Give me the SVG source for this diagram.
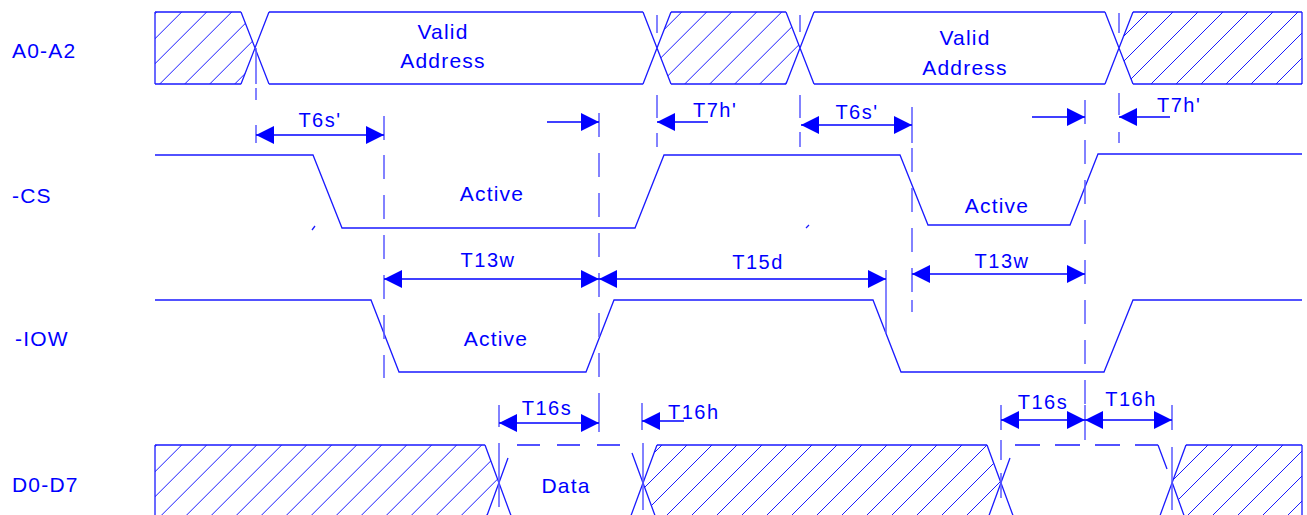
<svg xmlns="http://www.w3.org/2000/svg" width="1307" height="515" viewBox="0 0 1307 515">
<style>
.w{fill:none;stroke:#1a1aff;stroke-width:1.3}
.h{fill:none;stroke:#1a1aff;stroke-width:1}
.g{fill:none;stroke:#5a5aff;stroke-width:1.5}
.a{fill:none;stroke:#0000ff;stroke-width:1.3}
.t{font-family:"Liberation Sans",Arial,sans-serif;font-size:21px;letter-spacing:1.2px;fill:#0000ff}
.s{font-family:"Liberation Sans",Arial,sans-serif;font-size:20px;letter-spacing:1.5px;fill:#0000ff}
.m{text-anchor:middle}
</style>
<defs>
<marker id="ah" viewBox="0 0 18 18" refX="18" refY="9" markerWidth="18" markerHeight="18" markerUnits="userSpaceOnUse" orient="auto-start-reverse"><path d="M0,0 L18,9 L0,18 Z" fill="#0000ff"/></marker>
<clipPath id="cA1"><path d="M155,12 H241 L256,48 L241,84 H155 Z"/></clipPath>
<clipPath id="cA2"><path d="M657,48 L671,12 H786 L800,48 L786,84 H671 Z"/></clipPath>
<clipPath id="cA3"><path d="M1119,48 L1133,12 H1302 V84 H1133 Z"/></clipPath>
<clipPath id="cD1"><path d="M155,445 H485 L499,483 L485,521 H155 Z"/></clipPath>
<clipPath id="cD2"><path d="M643,483 L657,445 H987 L1001,483 L987,521 H657 Z"/></clipPath>
<clipPath id="cD3"><path d="M1172,483 L1186,445 H1302 V521 H1186 Z"/></clipPath>
</defs>
<rect width="1307" height="515" fill="#ffffff"/>

<g id="signal-labels">
<text class="t" x="12" y="58">A0-A2</text>
<text class="t" x="12" y="203">-CS</text>
<text class="t" x="15" y="346">-IOW</text>
<text class="t" x="12" y="492">D0-D7</text>
</g>

<g id="bus-address">
<path class="h" clip-path="url(#cA1)" d="M84.7,84 l72,-72 M109.7,84 l72,-72 M134.7,84 l72,-72 M159.7,84 l72,-72 M184.7,84 l72,-72 M209.7,84 l72,-72 M234.7,84 l72,-72"/>
<path class="h" clip-path="url(#cA2)" d="M584.7,84 l72,-72 M609.7,84 l72,-72 M634.7,84 l72,-72 M659.7,84 l72,-72 M684.7,84 l72,-72 M709.7,84 l72,-72 M734.7,84 l72,-72 M759.7,84 l72,-72 M784.7,84 l72,-72"/>
<path class="h" clip-path="url(#cA3)" d="M1051,84 l72,-72 M1076,84 l72,-72 M1101,84 l72,-72 M1126,84 l72,-72 M1151,84 l72,-72 M1176,84 l72,-72 M1201,84 l72,-72 M1226,84 l72,-72 M1251,84 l72,-72 M1276,84 l72,-72 M1301,84 l72,-72"/>
<path class="w" d="M155,12 V84 M155,12 H241 M269,12 H643 M671,12 H786 M814,12 H1105 M1133,12 H1302 M155,84 H241 M269,84 H643 M671,84 H786 M814,84 H1105 M1133,84 H1302 M1302,12 V84 M241,12 L269,84 M269,12 L241,84 M643,12 L671,84 M671,12 L643,84 M786,12 L814,84 M814,12 L786,84 M1105,12 L1133,84 M1133,12 L1105,84"/>
<text class="t m" x="443" y="39">Valid</text>
<text class="t m" x="443" y="68">Address</text>
<text class="t m" x="965" y="45">Valid</text>
<text class="t m" x="965" y="75">Address</text>
</g>

<g id="signal-cs">
<path class="w" d="M155,155 H313 L342,228 H635 L664,155 H900 L928,225 H1070 L1098,154 H1302"/>
<path class="w" d="M312,230 L315,226 M806,228 L809,225"/>
<text class="t m" x="492" y="201">Active</text>
<text class="t m" x="997" y="213">Active</text>
</g>

<g id="signal-iow">
<path class="w" d="M155,300 H371 L399,372 H586 L614,300 H873 L901,372 H1104 L1133,300 H1302"/>
<text class="t m" x="496" y="346">Active</text>
</g>

<g id="bus-data">
<path class="h" clip-path="url(#cD1)" d="M80.7,521 l76,-76 M105.7,521 l76,-76 M130.7,521 l76,-76 M155.7,521 l76,-76 M180.7,521 l76,-76 M205.7,521 l76,-76 M230.7,521 l76,-76 M255.7,521 l76,-76 M280.7,521 l76,-76 M305.7,521 l76,-76 M330.7,521 l76,-76 M355.7,521 l76,-76 M380.7,521 l76,-76 M405.7,521 l76,-76 M430.7,521 l76,-76 M455.7,521 l76,-76 M480.7,521 l76,-76"/>
<path class="h" clip-path="url(#cD2)" d="M561,521 l76,-76 M586,521 l76,-76 M611,521 l76,-76 M636,521 l76,-76 M661,521 l76,-76 M686,521 l76,-76 M711,521 l76,-76 M736,521 l76,-76 M761,521 l76,-76 M786,521 l76,-76 M811,521 l76,-76 M836,521 l76,-76 M861,521 l76,-76 M886,521 l76,-76 M911,521 l76,-76 M936,521 l76,-76 M961,521 l76,-76 M986,521 l76,-76"/>
<path class="h" clip-path="url(#cD3)" d="M1082,521 l76,-76 M1107,521 l76,-76 M1132,521 l76,-76 M1157,521 l76,-76 M1182,521 l76,-76 M1207,521 l76,-76 M1232,521 l76,-76 M1257,521 l76,-76 M1282,521 l76,-76 M1307,521 l76,-76"/>
<path class="w" d="M155,445 V515 M155,445 H485 M485,445 L513,521 M508,458 L485,521 M657,445 H987 M657,445 L629,521 M632,453 L657,521 M987,445 L1015,521 M1010,458 L987,521 M1186,445 H1302 M1186,445 L1158,521 M1302,445 V515 M1158,445 L1167,469 M1172,482 L1186,521"/>
<path class="w" d="M517,445 H540 M557,445 H580 M597,445 H620 M1015,445 H1040 M1055,445 H1080 M1095,445 H1120 M1135,445 H1158"/>
<text class="t m" x="566" y="493">Data</text>
</g>

<g id="guides">
<path class="g" d="M256,48 V84 M256,88 V100 M256,125 V143"/>
<path class="g" d="M384,116 V140 M384,155 V179 M384,195 V219 M384,235 V259 M384,275 V299 M384,315 V339 M384,355 V378"/>
<path class="g" d="M599,113 V137 M599,153 V177 M599,193 V217 M599,233 V257 M599,273 V297 M599,313 V337 M599,353 V377 M599,393 V432"/>
<path class="g" d="M657,15 V33 M657,95 V118 M657,133 V147"/>
<path class="g" d="M800,15 V32 M800,95 V118 M800,132 V147"/>
<path class="g" d="M912,107 V143 M912,148 V172 M912,188 V212 M912,228 V252 M912,268 V292 M912,300 V312"/>
<path class="g" d="M1085,100 V124 M1085,140 V164 M1085,180 V204 M1085,220 V244 M1085,260 V284 M1085,300 V324 M1085,340 V364 M1085,380 V404 M1085,405 V440"/>
<path class="g" d="M1119,13 V33 M1119,93 V115 M1119,132 V143"/>
<path class="g" d="M886,270 V333"/>
<path class="g" d="M499,405 V427 M499,443 V507"/>
<path class="g" d="M642,403 V430 M643,443 V510"/>
<path class="g" d="M1001,405 V430 M1001,440 V460 M1001,473 V498"/>
<path class="g" d="M1172,405 V430 M1172,447 V510"/>
</g>

<g id="timing-arrows">
<path class="a" d="M256,135 H384" marker-start="url(#ah)" marker-end="url(#ah)"/>
<path class="a" d="M547,122 H599" marker-end="url(#ah)"/>
<path class="a" d="M708,122 H657" marker-end="url(#ah)"/>
<path class="a" d="M801,125 H912" marker-start="url(#ah)" marker-end="url(#ah)"/>
<path class="a" d="M1032,117 H1085" marker-end="url(#ah)"/>
<path class="a" d="M1170,117 H1119" marker-end="url(#ah)"/>
<path class="a" d="M384,279 H599" marker-start="url(#ah)" marker-end="url(#ah)"/>
<path class="a" d="M599,279 H886" marker-start="url(#ah)" marker-end="url(#ah)"/>
<path class="a" d="M912,274 H1085" marker-start="url(#ah)" marker-end="url(#ah)"/>
<path class="a" d="M499,423 H599" marker-start="url(#ah)" marker-end="url(#ah)"/>
<path class="a" d="M684,421 H642" marker-end="url(#ah)"/>
<path class="a" d="M1001,420 H1085" marker-start="url(#ah)" marker-end="url(#ah)"/>
<path class="a" d="M1085,420 H1172" marker-start="url(#ah)" marker-end="url(#ah)"/>
<text class="s m" x="320" y="127">T6s'</text>
<text class="s" x="693" y="117">T7h'</text>
<text class="s m" x="857" y="119">T6s'</text>
<text class="s" x="1157" y="112">T7h'</text>
<text class="s m" x="488" y="267">T13w</text>
<text class="s m" x="758" y="269">T15d</text>
<text class="s m" x="1002" y="268">T13w</text>
<text class="s m" x="547" y="415">T16s</text>
<text class="s" x="668" y="419">T16h</text>
<text class="s m" x="1043" y="409">T16s</text>
<text class="s m" x="1131" y="406">T16h</text>
</g>
</svg>
